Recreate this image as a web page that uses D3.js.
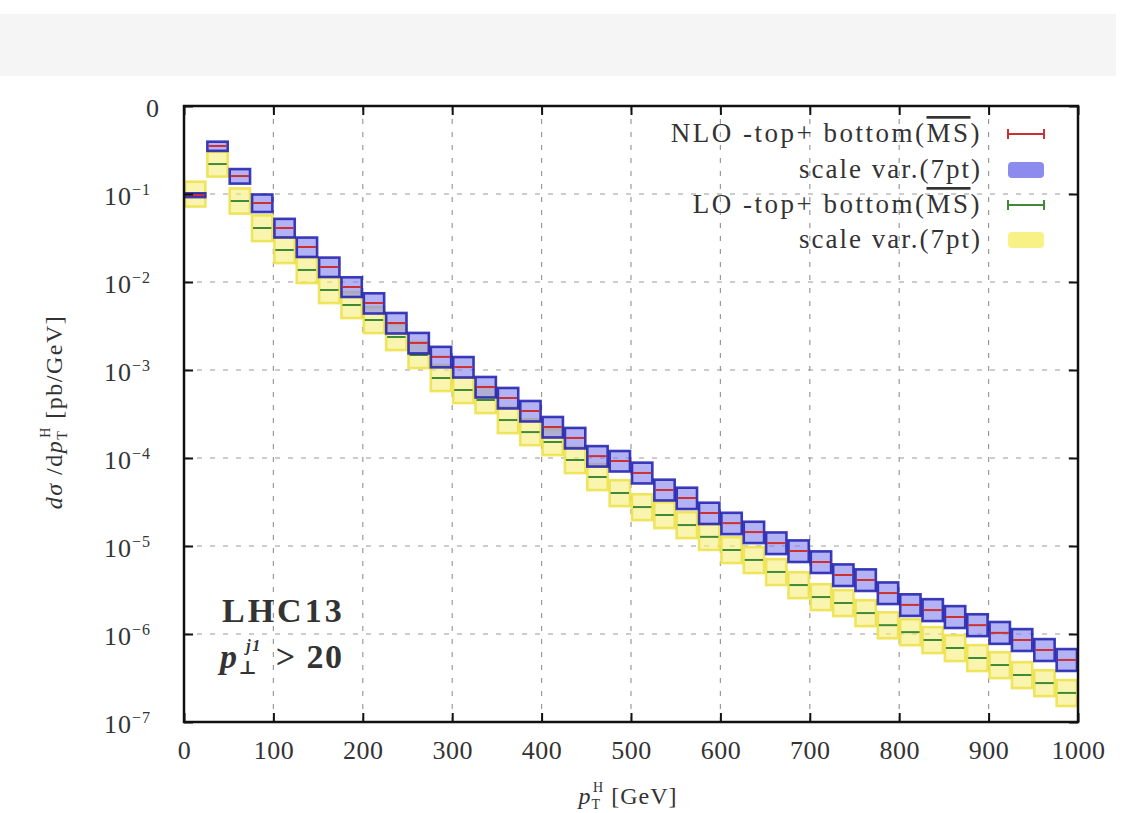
<!DOCTYPE html>
<html>
<head>
<meta charset="utf-8">
<script src="https://cdn.jsdelivr.net/npm/d3@7"></script>
<style>
  body { margin: 0; background: #fff; }
  text { font-family: "Liberation Serif", "DejaVu Serif", serif; fill: #333; }
</style>
</head>
<body>
<div id="chart"></div>
<script>
// bin lower edges in GeV (bin width 25)
const binStart = [0, 25, 50, 75, 100, 125, 150, 175, 200, 225, 250, 275, 300, 325, 350, 375, 400, 425, 450, 475,
                  500, 525, 550, 575, 600, 625, 650, 675, 700, 725, 750, 775, 800, 825, 850, 875, 900, 925, 950, 975];
const binWidth = 25;

// NLO top+bottom (MSbar), central values [pb/GeV]
const nloCentral = [0.097, 0.351, 0.160, 0.0790, 0.0411, 0.0250, 0.0148, 0.00877, 0.00577, 0.00342,
                    0.00203, 0.00141, 0.00108, 6.41e-4, 4.81e-4, 3.42e-4, 2.25e-4, 1.69e-4, 1.05e-4, 9.24e-5,
                    6.76e-5, 4.33e-5, 3.51e-5, 2.37e-5, 1.82e-5, 1.44e-5, 1.08e-5, 8.77e-6, 6.58e-6, 4.68e-6,
                    4.11e-6, 2.92e-6, 2.14e-6, 1.87e-6, 1.56e-6, 1.26e-6, 1.03e-6, 8.55e-7, 6.58e-7, 5.07e-7];
// relative scale variation (7pt), up / down
const nloUp   = [0.05, 0.12, 0.20, 0.25, 0.27, 0.28, 0.28, 0.29, 0.29, 0.30, 0.30, 0.30, 0.30, 0.30, 0.30, 0.30, 0.30, 0.30, 0.30, 0.30,
                 0.31, 0.31, 0.31, 0.31, 0.31, 0.31, 0.32, 0.32, 0.32, 0.32, 0.32, 0.32, 0.32, 0.33, 0.33, 0.33, 0.33, 0.33, 0.33, 0.33];
const nloDown = [0.05, 0.12, 0.18, 0.21, 0.22, 0.23, 0.23, 0.23, 0.24, 0.24, 0.24, 0.24, 0.24, 0.24, 0.24, 0.24, 0.24, 0.24, 0.24, 0.24,
                 0.24, 0.24, 0.25, 0.25, 0.25, 0.25, 0.25, 0.25, 0.25, 0.25, 0.25, 0.25, 0.25, 0.25, 0.25, 0.25, 0.25, 0.25, 0.25, 0.25];

// LO top+bottom (MSbar)
const loCentral = [0.100, 0.219, 0.0832, 0.0411, 0.0231, 0.0137, 0.00811, 0.00548, 0.00370, 0.00237,
                   0.00148, 8.11e-4, 5.93e-4, 4.56e-4, 2.70e-4, 1.97e-4, 1.52e-4, 9.49e-5, 6.08e-5, 4.00e-5,
                   2.77e-5, 2.25e-5, 1.73e-5, 1.27e-5, 9.01e-6, 6.94e-6, 5.07e-6, 3.60e-6, 2.63e-6, 2.25e-6,
                   1.73e-6, 1.26e-6, 1.05e-6, 8.55e-7, 6.93e-7, 5.34e-7, 4.44e-7, 3.42e-7, 2.77e-7, 2.14e-7];
const loUp   = [0.38, 0.38, 0.39, 0.39, 0.39, 0.39, 0.40, 0.40, 0.40, 0.40, 0.40, 0.40, 0.40, 0.40, 0.40, 0.40, 0.40, 0.40, 0.40, 0.40,
                0.40, 0.40, 0.40, 0.40, 0.40, 0.40, 0.40, 0.40, 0.40, 0.40, 0.40, 0.40, 0.40, 0.40, 0.40, 0.40, 0.40, 0.40, 0.40, 0.40];
const loDown = [0.28, 0.28, 0.28, 0.29, 0.29, 0.29, 0.29, 0.29, 0.29, 0.29, 0.29, 0.29, 0.29, 0.29, 0.29, 0.29, 0.29, 0.29, 0.29, 0.29,
                0.29, 0.29, 0.29, 0.29, 0.29, 0.29, 0.29, 0.29, 0.29, 0.29, 0.29, 0.29, 0.29, 0.29, 0.29, 0.29, 0.29, 0.29, 0.29, 0.29];

const xTicks = [0, 100, 200, 300, 400, 500, 600, 700, 800, 900, 1000];
const yTicks = [1, 1e-1, 1e-2, 1e-3, 1e-4, 1e-5, 1e-6, 1e-7];
const yTickLabels = ["0", "−1", "−2", "−3", "−4", "−5", "−6", "−7"];

const width = 1123, height = 813;
const margin = {left: 184, right: 1078, top: 106, bottom: 722};

const svg = d3.select("#chart").append("svg")
    .attr("width", width)
    .attr("height", height);

// light header strip at the top of the picture
svg.append("rect")
    .attr("x", 0).attr("y", 14)
    .attr("width", 1116).attr("height", 62)
    .attr("fill", "#f5f5f5");

let x = d3.scaleLinear().domain([0, 1000]).range([margin.left, margin.right]);
let y = d3.scaleLog().domain([1e-7, 1]).range([margin.bottom, margin.top]);

// grid
let grid = svg.append("g").attr("class", "grid")
    .attr("stroke", "#9a9a9a")
    .attr("stroke-width", 1.2)
    .attr("stroke-dasharray", "5,8");
grid.selectAll(".gx")
    .data(xTicks.slice(1, -1))
    .enter().append("line")
    .attr("x1", d => x(d)).attr("x2", d => x(d))
    .attr("y1", margin.top).attr("y2", margin.bottom);
grid.selectAll(".gy")
    .data(yTicks.slice(1, -1))
    .enter().append("line")
    .attr("x1", margin.left).attr("x2", margin.right)
    .attr("y1", d => y(d)).attr("y2", d => y(d));

function bins(central, up, down) {
    return binStart.map((s, i) => ({
        x0: s, x1: s + binWidth,
        c: central[i],
        hi: central[i] * (1 + up[i]),
        lo: central[i] * (1 - down[i])
    }));
}

let nlo = bins(nloCentral, nloUp, nloDown),
    lo = bins(loCentral, loUp, loDown);

let plot = svg.append("g");

function drawBand(data, fill, stroke, cls, opacity) {
    plot.selectAll("." + cls)
        .data(data)
        .enter().append("rect")
        .attr("class", cls)
        .attr("x", d => x(d.x0) + 1)
        .attr("width", d => x(d.x1) - x(d.x0) - 2)
        .attr("y", d => y(d.hi))
        .attr("height", d => y(d.lo) - y(d.hi))
        .attr("fill", fill)
        .attr("fill-opacity", opacity)
        .attr("stroke", stroke)
        .attr("stroke-width", 2.6)
        .attr("stroke-opacity", 0.85);
}

function drawCentral(data, color, cls) {
    plot.selectAll("." + cls)
        .data(data)
        .enter().append("line")
        .attr("class", cls)
        .attr("stroke", color)
        .attr("stroke-width", 2)
        .attr("x1", d => x(d.x0) + 2).attr("x2", d => x(d.x1) - 2)
        .attr("y1", d => y(d.c)).attr("y2", d => y(d.c));
}

drawBand(lo, "#f7ef78", "#ece046", "lo-band", 0.6);
drawCentral(lo, "#3f8a35", "lo-c");
drawBand(nlo, "#7f7fec", "#1c1cae", "nlo-band", 0.6);
drawCentral(nlo, "#cc3030", "nlo-c");

// axes with inward ticks on all four sides
let axisB = svg.append("g")
    .attr("transform", `translate(0,${margin.bottom})`)
    .call(d3.axisBottom(x).tickValues(xTicks).tickSize(-9).tickPadding(19).tickFormat(d3.format("d")));
let axisT = svg.append("g")
    .attr("transform", `translate(0,${margin.top})`)
    .call(d3.axisTop(x).tickValues(xTicks).tickSize(-9).tickFormat(""));
let axisL = svg.append("g")
    .attr("transform", `translate(${margin.left},0)`)
    .call(d3.axisLeft(y).tickValues(yTicks).tickSize(-9).tickPadding(33));
let axisR = svg.append("g")
    .attr("transform", `translate(${margin.right},0)`)
    .call(d3.axisRight(y).tickValues(yTicks).tickSize(-9).tickFormat(""));

[axisB, axisT, axisL, axisR].forEach(a => {
    a.select(".domain").remove();
    a.selectAll(".tick line").attr("stroke", "#111").attr("stroke-width", 2);
});

axisB.selectAll(".tick text")
    .style("font-family", "Liberation Serif")
    .attr("font-size", 26)
    .attr("letter-spacing", 0.5)
    .attr("fill", "#555");

axisL.selectAll(".tick text")
    .style("font-family", "Liberation Serif")
    .attr("font-size", 26)
    .attr("letter-spacing", 1)
    .attr("fill", "#555")
    .attr("dy", "0.4em")
    .each(function(d, i) {
        let t = d3.select(this).text("");
        if (i === 0) {
            t.text(yTickLabels[i]).attr("dx", 9);
            return;
        }
        t.append("tspan").text("10");
        t.append("tspan").attr("dy", -10).attr("font-size", 16).text(yTickLabels[i]);
    });

// frame
svg.append("rect")
    .attr("x", margin.left).attr("y", margin.top)
    .attr("width", margin.right - margin.left)
    .attr("height", margin.bottom - margin.top)
    .attr("fill", "none")
    .attr("stroke", "#111")
    .attr("stroke-width", 2.5);

// axis titles
let xt = svg.append("text")
    .attr("x", 628).attr("y", 804)
    .attr("text-anchor", "middle")
    .attr("font-size", 24)
    .attr("letter-spacing", 1)
    .attr("fill", "#555");
xt.append("tspan").attr("font-style", "italic").text("p");
xt.append("tspan").attr("dy", 5).attr("font-size", 14).text("T");
xt.append("tspan").attr("dy", -17).attr("dx", -8).attr("font-size", 14).text("H");
xt.append("tspan").attr("dy", 12).text(" [GeV]");

let yt = svg.append("text")
    .attr("transform", "translate(62,412) rotate(-90)")
    .attr("text-anchor", "middle")
    .attr("font-size", 24)
    .attr("letter-spacing", 1.5)
    .attr("fill", "#555");
yt.append("tspan").attr("font-style", "italic").text("dσ");
yt.append("tspan").text(" /d");
yt.append("tspan").attr("font-style", "italic").text("p");
yt.append("tspan").attr("dy", 5).attr("font-size", 14).text("T");
yt.append("tspan").attr("dy", -17).attr("dx", -8).attr("font-size", 14).text("H");
yt.append("tspan").attr("dy", 12).text(" [pb/GeV]");

// legend
const legendLabels = ["NLO -top+ bottom(", "scale var.(7pt)", "LO -top+ bottom(", "scale var.(7pt)"];
const legendRows = [134, 170, 205, 240];
let legend = svg.append("g");
legendLabels.forEach((lab, i) => {
    let t = legend.append("text")
        .attr("x", 982).attr("y", legendRows[i] + 8)
        .attr("text-anchor", "end")
        .attr("font-size", 27)
        .attr("letter-spacing", i % 2 === 0 ? 2.5 : 2)
        .attr("fill", "#555");
    t.append("tspan").text(lab);
    if (i % 2 === 0) {
        t.append("tspan").style("text-decoration", "overline").text("MS");
        t.append("tspan").text(")");
    }
});
function legendBar(row, color) {
    let g = legend.append("g").attr("stroke", color).attr("stroke-width", 2);
    g.append("line").attr("x1", 1008).attr("x2", 1044).attr("y1", row).attr("y2", row);
    g.append("line").attr("x1", 1008).attr("x2", 1008).attr("y1", row - 5).attr("y2", row + 5);
    g.append("line").attr("x1", 1044).attr("x2", 1044).attr("y1", row - 5).attr("y2", row + 5);
}
legendBar(legendRows[0], "#cc3030");
legend.append("rect").attr("x", 1008).attr("y", legendRows[1] - 8).attr("width", 36).attr("height", 16)
    .attr("rx", 4).attr("fill", "#7f7fec").attr("fill-opacity", 0.9);
legendBar(legendRows[2], "#3f8a35");
legend.append("rect").attr("x", 1008).attr("y", legendRows[3] - 8).attr("width", 36).attr("height", 16)
    .attr("rx", 4).attr("fill", "#f7ef78").attr("fill-opacity", 0.9);

// annotations
svg.append("text")
    .attr("x", 222).attr("y", 622)
    .attr("font-size", 34)
    .attr("font-weight", "bold")
    .attr("letter-spacing", 3)
    .attr("fill", "#333")
    .text("LHC13");
let cut = svg.append("text")
    .attr("x", 220).attr("y", 668)
    .attr("font-size", 34)
    .attr("font-weight", "bold")
    .attr("letter-spacing", 1.5)
    .attr("fill", "#333");
cut.append("tspan").attr("font-style", "italic").text("p");
cut.append("tspan").attr("dy", 6).attr("font-size", 19).text("⊥");
cut.append("tspan").attr("dy", -23).attr("dx", -12).attr("font-size", 16).attr("font-style", "italic").text("j1");
cut.append("tspan").attr("dy", 17).attr("dx", 4).text(" > 20");
</script>
</body>
</html>
